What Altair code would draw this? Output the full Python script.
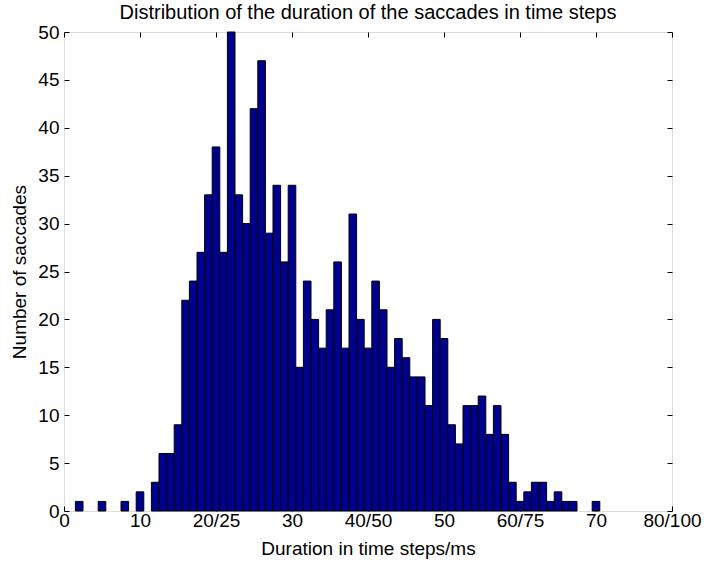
import altair as alt
import pandas as pd

# Histogram bins (centre of each bin, in time steps) and their counts
durations = [2, 5, 8, 10, 12, 13, 14, 15, 16, 17, 18, 19, 20, 21, 22, 23, 24, 25, 26, 27,
             28, 29, 30, 31, 32, 33, 34, 35, 36, 37, 38, 39, 40, 41, 42, 43, 44, 45, 46, 47,
             48, 49, 50, 51, 52, 53, 54, 55, 56, 57, 58, 59, 60, 61, 62, 63, 64, 65, 66, 67, 70]
counts = [1, 1, 1, 2, 3, 6, 6, 9, 22, 24, 27, 33, 38, 27, 50, 33, 30, 42, 47, 29,
          34, 26, 34, 15, 24, 20, 17, 21, 26, 17, 31, 20, 17, 24, 21, 15, 18, 16, 14, 14,
          11, 20, 18, 9, 7, 11, 11, 12, 8, 11, 8, 3, 1, 2, 3, 3, 1, 2, 1, 1, 1]

x_ticks = [0, 10, 20, 30, 40, 50, 60, 70, 80]
x_tick_labels = ["0", "10", "20/25", "30", "40/50", "50", "60/75", "70", "80/100"]
y_ticks = [0, 5, 10, 15, 20, 25, 30, 35, 40, 45, 50]

df = pd.DataFrame({"center": durations, "count": counts})
df["start"] = df["center"] - 0.5
df["end"] = df["center"] + 0.5

label_expr = "''"
for v, lab in reversed(list(zip(x_ticks, x_tick_labels))):
    label_expr = f"datum.value == {v} ? '{lab}' : ({label_expr})"

FONT = "Liberation Sans"
FS = 19
xscale = alt.Scale(domain=[0, 80], nice=False, zero=False)
yscale = alt.Scale(domain=[0, 50], nice=False)

common_axis = dict(offset=-5, tickSize=5, tickColor="black", tickWidth=1,
                   domain=False, grid=False, labelFont=FONT, labelFontSize=FS,
                   labelColor="black", titleFont=FONT, titleFontSize=FS,
                   titleColor="black", titleFontWeight="normal")

bars = alt.Chart(df).mark_bar(color="#00008F", stroke="black", strokeWidth=1).encode(
    x=alt.X("start:Q", scale=xscale,
            axis=alt.Axis(values=x_ticks, labelExpr=label_expr, orient="bottom",
                          title="Duration in time steps/ms", labelPadding=0,
                          titlePadding=9, labelFlush=False, **common_axis)),
    x2="end:Q",
    y=alt.Y("count:Q", scale=yscale,
            axis=alt.Axis(values=y_ticks, orient="left", title="Number of saccades",
                          labelPadding=5, titlePadding=8, **common_axis)),
    y2=alt.datum(0),
)

frame = alt.Chart(df).mark_bar(opacity=0).encode(
    x=alt.X("start:Q", scale=xscale,
            axis=alt.Axis(values=x_ticks, orient="top", labels=False, title="",
                          **common_axis)),
    x2="end:Q",
    y=alt.Y("count:Q", scale=yscale,
            axis=alt.Axis(values=y_ticks, orient="right", labels=False, title="",
                          **common_axis)),
    y2=alt.datum(0),
)

chart = alt.layer(bars, frame).resolve_axis(x="independent", y="independent").properties(
    width=608, height=479,
    title=alt.TitleParams("Distribution of the duration of the saccades in time steps",
                          font=FONT, fontSize=20, fontWeight="normal", color="black",
                          anchor="middle", offset=0),
    autosize=alt.AutoSizeParams(type="none"),
    padding={"left": 64, "top": 32, "right": 49, "bottom": 54},
).configure_view(stroke="black", strokeWidth=1).configure(background="white")

chart.save("out.html", embed_options={"renderer": "svg", "actions": False})
